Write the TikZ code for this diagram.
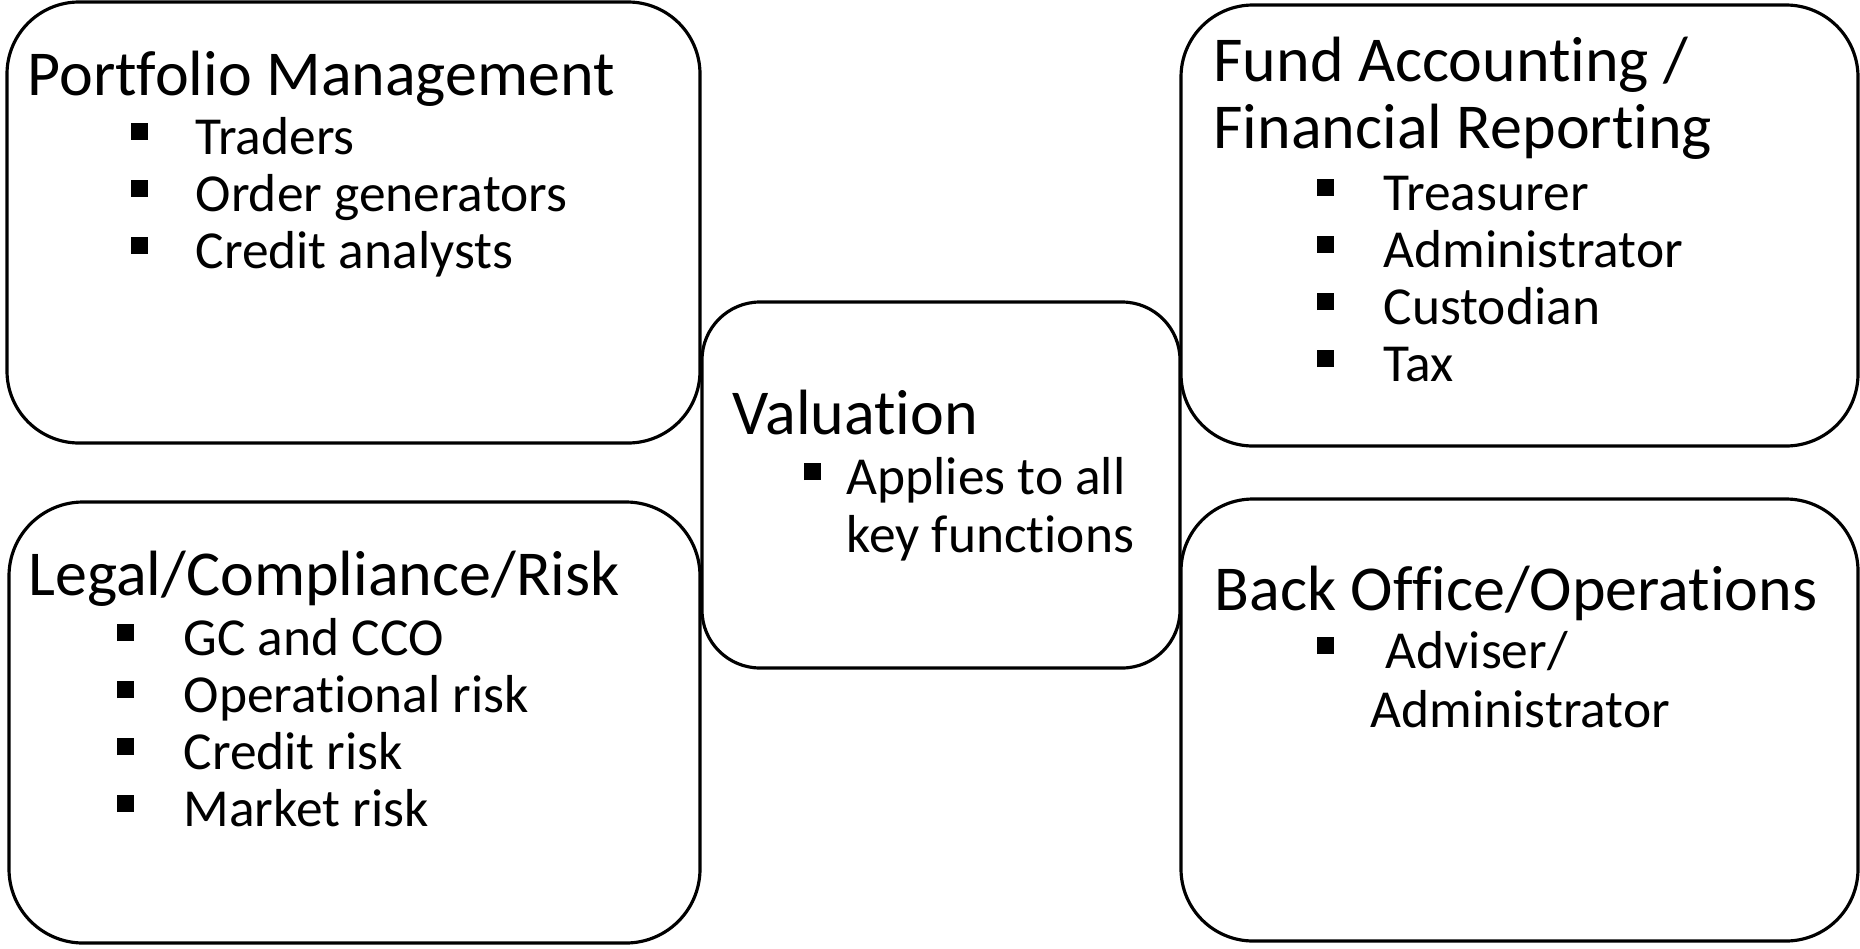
\documentclass[tikz,border=0pt]{standalone}
\usepackage{fontspec}
\setmainfont{Carlito}[Ligatures=CommonOff]
\newcommand{\sqbullet}[1]{\makebox[#1][l]{\rule[0.14cm]{0.17cm}{0.17cm}}}
\begin{document}
\begin{tikzpicture}[x=0.01cm, y=-0.01cm, line width=0.9pt,
    head/.style={anchor=base west, inner sep=0pt, font=\fontsize{18.2pt}{21pt}\selectfont},
    item/.style={anchor=base west, inner sep=0pt, font=\fontsize{15.2pt}{18pt}\selectfont}]
    \useasboundingbox (0,0) rectangle (1860,948);
    \draw[rounded corners=0.72cm] (7,2) rectangle (700,443);
    \draw[rounded corners=0.74cm] (9,502) rectangle (700,943);
    \draw[rounded corners=0.72cm] (1181,5) rectangle (1858,446);
    \draw[rounded corners=0.72cm] (1181,499) rectangle (1858,941);
    \draw[rounded corners=0.58cm] (702,302) rectangle (1180,668);
    \node[head] (pm) at (26,95) {Portfolio Management};
    \node[item] (pm1) at (129,154) {\sqbullet{0.65cm}Traders};
    \node[item] (pm2) at (129,211) {\sqbullet{0.65cm}Order generators};
    \node[item] (pm3) at (129,268) {\sqbullet{0.65cm}Credit analysts};
    \node[head] (lg) at (27,595) {Legal/Compliance/Risk};
    \node[item] (lg1) at (115,655) {\sqbullet{0.67cm}GC and CCO};
    \node[item] (lg2) at (115,712) {\sqbullet{0.67cm}Operational risk};
    \node[item] (lg3) at (115,769) {\sqbullet{0.67cm}Credit risk};
    \node[item] (lg4) at (115,826) {\sqbullet{0.67cm}Market risk};
    \node[head] (val) at (731,434) {Valuation};
    \node[item] (val1) at (802,494) {\sqbullet{0.43cm}Applies to all};
    \node[item] (val2) at (845,552) {key functions};
    \node[head] (fa) at (1212,81) {Fund Accounting /};
    \node[head] (fr) at (1212,148) {Financial Reporting};
    \node[item] (fa1) at (1315,210) {\sqbullet{0.67cm}Treasurer};
    \node[item] (fa2) at (1315,267) {\sqbullet{0.67cm}Administrator};
    \node[item] (fa3) at (1315,324) {\sqbullet{0.67cm}Custodian};
    \node[item] (fa4) at (1315,381) {\sqbullet{0.67cm}Tax};
    \node[head] (bo) at (1213,610) {Back Office/Operations};
    \node[item] (bo1) at (1315,668) {\sqbullet{0.69cm}Adviser/};
    \node[item] (bo2) at (1369,727) {Administrator};
\end{tikzpicture}
\end{document}
